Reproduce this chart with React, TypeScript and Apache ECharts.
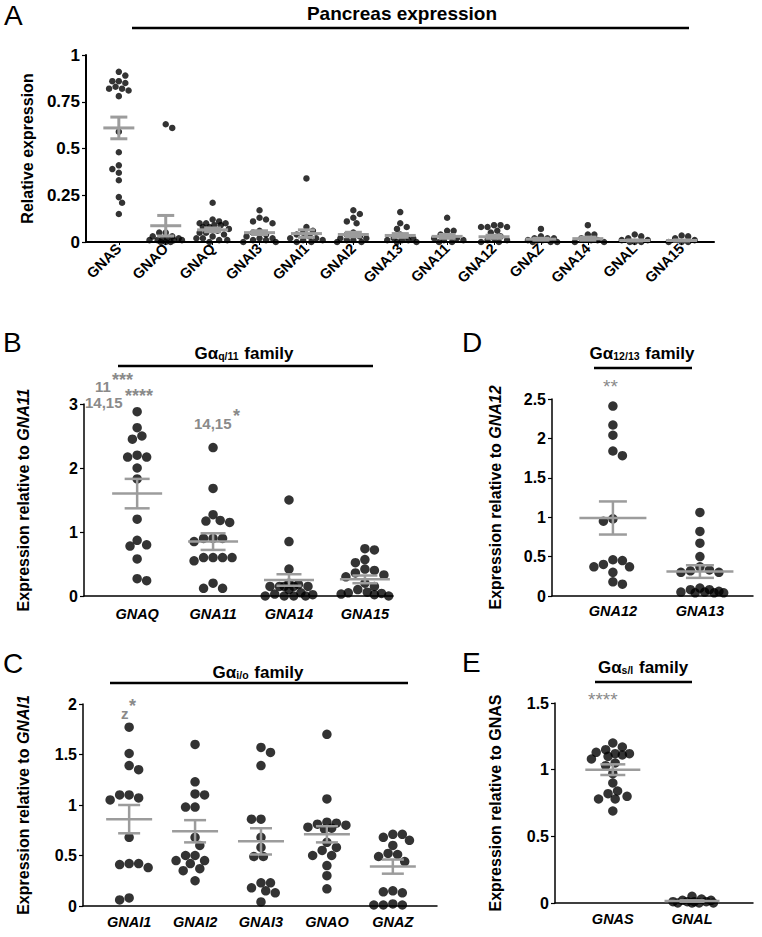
import React, { useEffect, useRef } from 'react';
import * as echarts from 'echarts';

const FONT = '"Liberation Sans", Arial, Helvetica, sans-serif';
const BAR_GRAY = '#9c9c9c';
const ANNO_GRAY = '#8a8a8a';

// ---------- Panel A: pancreas expression ----------
const pancreasCats = ['GNAS', 'GNAO', 'GNAQ', 'GNAI3', 'GNAI1', 'GNAI2', 'GNA13', 'GNA11', 'GNA12', 'GNAZ', 'GNA14', 'GNAL', 'GNA15'];
const pancreasValues = [
  [0.91, 0.89, 0.86, 0.86, 0.85, 0.83, 0.82, 0.82, 0.81, 0.78, 0.59, 0.48, 0.41, 0.39, 0.37, 0.33, 0.24, 0.21, 0.15],
  [0.63, 0.61, 0.05, 0.05, 0.03, 0.03, 0.02, 0.02, 0.02, 0.01, 0.01, 0.01, 0.01, 0.0, 0.0, 0.0],
  [0.21, 0.12, 0.11, 0.1, 0.1, 0.1, 0.09, 0.09, 0.08, 0.08, 0.07, 0.06, 0.05, 0.05, 0.04, 0.03, 0.02, 0.02, 0.01, 0.01, 0.0],
  [0.17, 0.13, 0.12, 0.11, 0.1, 0.06, 0.05, 0.04, 0.03, 0.02, 0.02, 0.01, 0.01, 0.0, 0.0],
  [0.34, 0.08, 0.06, 0.05, 0.04, 0.03, 0.02, 0.02, 0.01, 0.01, 0.0, 0.0],
  [0.17, 0.15, 0.13, 0.11, 0.1, 0.05, 0.04, 0.03, 0.02, 0.02, 0.01, 0.01, 0.0, 0.0],
  [0.16, 0.1, 0.08, 0.07, 0.04, 0.03, 0.02, 0.02, 0.01, 0.01, 0.01, 0.0, 0.0],
  [0.13, 0.06, 0.06, 0.04, 0.03, 0.02, 0.02, 0.01, 0.01, 0.0, 0.0],
  [0.09, 0.09, 0.08, 0.08, 0.08, 0.06, 0.05, 0.03, 0.02, 0.01, 0.01, 0.0, 0.0],
  [0.07, 0.03, 0.02, 0.02, 0.02, 0.01, 0.01, 0.01, 0.0, 0.0, 0.0],
  [0.09, 0.04, 0.04, 0.02, 0.01, 0.01, 0.0, 0.0],
  [0.04, 0.03, 0.02, 0.01, 0.01, 0.0, 0.0, 0.0],
  [0.035, 0.03, 0.02, 0.01, 0.0, 0.0, 0.0],
];
const pancreasMean = [0.61, 0.087, 0.065, 0.05, 0.045, 0.04, 0.035, 0.03, 0.028, 0.015, 0.018, 0.008, 0.008];
const pancreasSem = [0.058, 0.055, 0.01, 0.01, 0.02, 0.012, 0.01, 0.01, 0.008, 0.005, 0.008, 0.003, 0.003];

// ---------- Panel B: Gαq/11 family ----------
const q11Cats = ['GNAQ', 'GNA11', 'GNA14', 'GNA15'];
const q11Values = [
  [2.88, 2.63, 2.5, 2.45, 2.2, 2.17, 2.17, 2.0, 1.83, 1.2, 0.87, 0.8, 0.78, 0.58, 0.27, 0.24],
  [2.32, 1.68, 1.27, 1.18, 1.15, 1.17, 0.9, 0.9, 0.9, 0.85, 0.6, 0.6, 0.6, 0.6, 0.55, 0.2, 0.12, 0.12],
  [1.5, 0.85, 0.42, 0.2, 0.18, 0.15, 0.15, 0.15, 0.15, 0.15, 0.1, 0.05, 0.03, 0.02, 0.0, 0.0, 0.0, 0.0],
  [0.74, 0.72, 0.57, 0.52, 0.42, 0.4, 0.36, 0.33, 0.3, 0.2, 0.15, 0.1, 0.06, 0.05, 0.04, 0.03, 0.02, 0.0],
];
const q11Mean = [1.6, 0.85, 0.25, 0.26];
const q11Sem = [0.23, 0.13, 0.09, 0.06];

// ---------- Panel C: Gαi/o family ----------
const ioCats = ['GNAI1', 'GNAI2', 'GNAI3', 'GNAO', 'GNAZ'];
const ioValues = [
  [1.77, 1.51, 1.39, 1.35, 1.1, 1.1, 1.07, 1.05, 0.68, 0.42, 0.42, 0.41, 0.38, 0.08, 0.06],
  [1.6, 1.23, 1.11, 1.1, 0.98, 0.98, 0.68, 0.6, 0.5, 0.5, 0.45, 0.45, 0.42, 0.37, 0.35, 0.25],
  [1.57, 1.52, 1.39, 0.86, 0.86, 0.68, 0.58, 0.49, 0.49, 0.23, 0.23, 0.18, 0.15, 0.13, 0.04],
  [1.7, 1.06, 0.83, 0.82, 0.81, 0.8, 0.78, 0.77, 0.76, 0.63, 0.58, 0.55, 0.5, 0.5, 0.4, 0.3, 0.17],
  [0.71, 0.71, 0.68, 0.65, 0.6, 0.52, 0.51, 0.49, 0.44, 0.15, 0.14, 0.13, 0.02, 0.01, 0.01, 0.01],
];
const ioMean = [0.86, 0.74, 0.64, 0.71, 0.39];
const ioSem = [0.14, 0.11, 0.13, 0.08, 0.07];

// ---------- Panel D: Gα12/13 family ----------
const g1213Cats = ['GNA12', 'GNA13'];
const g1213Values = [
  [2.41, 2.17, 2.04, 1.84, 1.78, 0.98, 0.95, 0.46, 0.45, 0.4, 0.37, 0.37, 0.3, 0.18, 0.15],
  [1.06, 0.82, 0.67, 0.5, 0.37, 0.33, 0.32, 0.3, 0.3, 0.1, 0.08, 0.08, 0.06, 0.05, 0.05, 0.04, 0.04, 0.04],
];
const g1213Mean = [0.99, 0.31];
const g1213Sem = [0.21, 0.08];

// ---------- Panel E: Gαs/l family ----------
const slCats = ['GNAS', 'GNAL'];
const slValues = [
  [1.2, 1.17, 1.15, 1.13, 1.12, 1.12, 1.11, 1.1, 1.08, 1.05, 1.03, 0.97, 0.9, 0.84, 0.82, 0.8, 0.78, 0.78, 0.69],
  [0.05, 0.03, 0.02, 0.02, 0.01, 0.01, 0.01, 0.01, 0.0, 0.0, 0.0, 0.0],
];
const slMean = [1.0, 0.015];
const slSem = [0.04, 0.005];

type Panel = {
  cats: string[];
  values: number[][];
  mean: number[];
  sem: number[];
  grid: { left: number; top: number; width: number; height: number };
  xMin: number;
  xMax: number;
  yMax: number;
  yInterval: number;
  dot: number;
  spread: number;
  meanW: number;
  capW: number;
  barW: number;
  axisW: number;
  yName: string;
  yNameGap: number;
  yLabelSize: number;
  italicCats: boolean;
  rotate: number;
  catSize: number;
  catMargin: number;
  xTicks: boolean;
};

const panels: Panel[] = [
  {
    cats: pancreasCats, values: pancreasValues, mean: pancreasMean, sem: pancreasSem,
    grid: { left: 86, top: 55, width: 628, height: 187 },
    xMin: -0.7, xMax: 12.69, yMax: 1, yInterval: 0.25, dot: 6.5, spread: 17,
    meanW: 31, capW: 17, barW: 3, axisW: 2,
    yName: '{n|Relative expression}', yNameGap: 51, yLabelSize: 17,
    italicCats: false, rotate: 45, catSize: 14.5, catMargin: 4, xTicks: true,
  },
  {
    cats: q11Cats, values: q11Values, mean: q11Mean, sem: q11Sem,
    grid: { left: 84, top: 404, width: 309, height: 192 },
    xMin: -0.7, xMax: 3.37, yMax: 3, yInterval: 1, dot: 9.5, spread: 24,
    meanW: 50, capW: 25, barW: 2.5, axisW: 1.5,
    yName: '{n|Expression relative to }{i|GNA11}', yNameGap: 53, yLabelSize: 16,
    italicCats: true, rotate: 0, catSize: 14.5, catMargin: 10, xTicks: false,
  },
  {
    cats: ioCats, values: ioValues, mean: ioMean, sem: ioSem,
    grid: { left: 83, top: 704, width: 354, height: 202 },
    xMin: -0.7, xMax: 4.67, yMax: 2, yInterval: 0.5, dot: 9.5, spread: 22,
    meanW: 46, capW: 22, barW: 2.5, axisW: 1.5,
    yName: '{n|Expression relative to }{i|GNAI1}', yNameGap: 52, yLabelSize: 16,
    italicCats: true, rotate: 0, catSize: 14.5, catMargin: 8, xTicks: false,
  },
  {
    cats: g1213Cats, values: g1213Values, mean: g1213Mean, sem: g1213Sem,
    grid: { left: 552, top: 399, width: 201, height: 197 },
    xMin: -0.7, xMax: 1.61, yMax: 2.5, yInterval: 0.5, dot: 9.5, spread: 26,
    meanW: 67, capW: 28, barW: 2.5, axisW: 1.5,
    yName: '{n|Expression relative to }{i|GNA12}', yNameGap: 49, yLabelSize: 16,
    italicCats: true, rotate: 0, catSize: 14.5, catMargin: 7, xTicks: false,
  },
  {
    cats: slCats, values: slValues, mean: slMean, sem: slSem,
    grid: { left: 555, top: 703, width: 198, height: 200 },
    xMin: -0.73, xMax: 1.77, yMax: 1.5, yInterval: 0.5, dot: 9.5, spread: 22,
    meanW: 55, capW: 25, barW: 2.5, axisW: 1.5,
    yName: '{n|Expression relative to GNAS}', yNameGap: 52, yLabelSize: 16,
    italicCats: true, rotate: 0, catSize: 14.5, catMargin: 8, xTicks: false,
  },
];

// Beeswarm layout with a maximum half-width (pixels); returns x offsets in axis units
function swarm(vals: number[], yPx: number, xPx: number, d: number, maxHalf: number): number[] {
  const order = vals.map((_, i) => i).sort((a, b) => vals[b] - vals[a]);
  const placed: { x: number; y: number }[] = [];
  const res: number[] = new Array(vals.length).fill(0);
  let bal = 0;
  const minD2 = d * d * 0.92;
  const step = d * 0.25;
  const kMax = Math.floor(maxHalf / step);
  for (const i of order) {
    const y = vals[i] * yPx;
    const minDist = (x: number) =>
      placed.reduce((m, p) => Math.min(m, (p.x - x) ** 2 + (p.y - y) ** 2), Infinity);
    let chosen: number | undefined;
    let best = 0;
    let bestD = -1;
    for (let k = 0; k <= kMax; k++) {
      const s = k * step;
      const opts = k === 0 ? [0] : bal > 0 ? [-s, s] : [s, -s];
      for (const o of opts) {
        const md = minDist(o);
        if (md >= minD2) {
          chosen = o;
          break;
        }
        if (md > bestD + 0.5) {
          bestD = md;
          best = o;
        }
      }
      if (chosen !== undefined) break;
    }
    const x = chosen !== undefined ? chosen : best;
    bal += Math.sign(x);
    placed.push({ x, y });
    res[i] = x / xPx;
  }
  return res;
}

function buildOption(): any {
  const grids: any[] = [];
  const xAxes: any[] = [];
  const yAxes: any[] = [];
  const series: any[] = [];

  panels.forEach((p, pi) => {
    grids.push({ ...p.grid, containLabel: false });
    const idx = p.cats.map((_, i) => i);
    xAxes.push({
      type: 'value',
      gridIndex: pi,
      min: p.xMin,
      max: p.xMax,
      splitLine: { show: false },
      axisLine: { show: true, onZero: false, lineStyle: { color: '#000', width: p.axisW } },
      axisTick: { show: p.xTicks, customValues: idx, length: 3, lineStyle: { color: '#000', width: 1 } },
      axisLabel: {
        customValues: idx,
        formatter: (v: number) => p.cats[Math.round(v)] ?? '',
        rotate: p.rotate,
        margin: p.catMargin,
        color: '#000',
        fontFamily: FONT,
        fontWeight: 'bold',
        fontStyle: p.italicCats ? 'italic' : 'normal',
        fontSize: p.catSize,
      },
    });
    yAxes.push({
      type: 'value',
      gridIndex: pi,
      min: 0,
      max: p.yMax,
      interval: p.yInterval,
      splitLine: { show: false },
      axisLine: { show: true, onZero: false, lineStyle: { color: '#000', width: p.axisW } },
      axisTick: { show: true, length: 4, lineStyle: { color: '#000', width: 1.2 } },
      axisLabel: {
        color: '#000',
        fontFamily: FONT,
        fontWeight: 'bold',
        fontSize: p.yLabelSize,
        margin: 6,
      },
      name: p.yName,
      nameLocation: 'middle',
      nameRotate: 90,
      nameGap: p.yNameGap,
      nameTextStyle: {
        rich: {
          n: { fontFamily: FONT, fontWeight: 'bold', fontSize: 16, color: '#000' },
          i: { fontFamily: FONT, fontWeight: 'bold', fontStyle: 'italic', fontSize: 16, color: '#000' },
        },
      },
    });

    const yPx = p.grid.height / p.yMax;
    const xPx = p.grid.width / (p.xMax - p.xMin);
    const pts: number[][] = [];
    p.values.forEach((vals, ci) => {
      const offs = swarm(vals, yPx, xPx, p.dot, p.spread);
      vals.forEach((v, k) => pts.push([ci + offs[k], v]));
    });
    series.push({
      type: 'scatter',
      xAxisIndex: pi,
      yAxisIndex: pi,
      data: pts,
      symbol: 'circle',
      symbolSize: p.dot,
      itemStyle: { color: '#000' },
      clip: false,
      silent: true,
      z: 2,
    });

    const bars = p.mean.map((m, i) => [i, m, Math.max(0, m - p.sem[i]), m + p.sem[i]]);
    series.push({
      type: 'custom',
      xAxisIndex: pi,
      yAxisIndex: pi,
      data: bars,
      silent: true,
      z: 3,
      clip: false,
      renderItem: (_params: any, api: any) => {
        const i = api.value(0);
        const pm = api.coord([i, api.value(1)]);
        const pl = api.coord([i, api.value(2)]);
        const ph = api.coord([i, api.value(3)]);
        const st = { stroke: BAR_GRAY, lineWidth: p.barW };
        return {
          type: 'group',
          children: [
            { type: 'line', shape: { x1: pm[0] - p.meanW / 2, y1: pm[1], x2: pm[0] + p.meanW / 2, y2: pm[1] }, style: st },
            { type: 'line', shape: { x1: pl[0], y1: pl[1], x2: ph[0], y2: ph[1] }, style: st },
            { type: 'line', shape: { x1: pl[0] - p.capW / 2, y1: pl[1], x2: pl[0] + p.capW / 2, y2: pl[1] }, style: st },
            { type: 'line', shape: { x1: ph[0] - p.capW / 2, y1: ph[1], x2: ph[0] + p.capW / 2, y2: ph[1] }, style: st },
          ],
        };
      },
    });
  });

  const letter = (t: string, x: number, y: number) => ({
    type: 'text',
    x,
    y,
    style: { text: t, fontFamily: FONT, fontSize: 28, fill: '#000', verticalAlign: 'middle', align: 'left' },
  });
  const hline = (x1: number, x2: number, y: number) => ({
    type: 'line',
    shape: { x1, y1: y, x2, y2: y },
    style: { stroke: '#000', lineWidth: 2.6 },
  });
  const familyTitle = (sub: string, x: number, y: number) => ({
    type: 'text',
    x,
    y,
    style: {
      text: `{b|Gα}{s|${sub}}{b| family}`,
      align: 'center',
      verticalAlign: 'middle',
      rich: {
        b: { fontFamily: FONT, fontWeight: 'bold', fontSize: 17, fill: '#000', verticalAlign: 'bottom' },
        s: { fontFamily: FONT, fontWeight: 'bold', fontSize: 10.5, fill: '#000', verticalAlign: 'bottom', padding: [0, 1, 0, 0] },
      },
    },
  });
  const anno = (t: string, x: number, y: number, size = 14, weight = 'bold', align = 'left') => ({
    type: 'text',
    x,
    y,
    style: { text: t, fontFamily: FONT, fontSize: size, fontWeight: weight, fill: ANNO_GRAY, verticalAlign: 'middle', align },
  });

  const graphic = [
    letter('A', 4, 15),
    letter('B', 3, 342),
    letter('C', 3, 663),
    letter('D', 462, 342),
    letter('E', 462, 662),
    {
      type: 'text',
      x: 402,
      y: 13,
      style: { text: 'Pancreas expression', fontFamily: FONT, fontWeight: 'bold', fontSize: 19, fill: '#000', align: 'center', verticalAlign: 'middle' },
    },
    hline(132, 689, 28),
    familyTitle('q/11', 244, 353),
    hline(118, 373, 366),
    familyTitle('i/o', 258, 672),
    hline(110, 408, 683),
    familyTitle('12/13', 642, 353),
    hline(594, 692, 368),
    familyTitle('s/l', 643, 667),
    hline(595, 692, 682),
    anno('11', 95, 386, 15),
    anno('***', 112, 380, 18),
    anno('14,15', 85, 402, 15),
    anno('****', 125, 396, 18),
    anno('14,15', 194, 423, 15),
    anno('*', 233, 416, 18),
    anno('**', 603, 386, 19, 'normal'),
    anno('z', 121, 713, 15),
    anno('*', 129, 706, 18),
    anno('****', 588, 699, 19, 'normal'),
  ];

  return {
    animation: false,
    backgroundColor: '#fff',
    grid: grids,
    xAxis: xAxes,
    yAxis: yAxes,
    series,
    graphic,
  };
}

export default function App() {
  const ref = useRef<HTMLDivElement>(null);
  useEffect(() => {
    if (!ref.current) return;
    const chart = echarts.init(ref.current, undefined, { renderer: 'svg' });
    chart.setOption(buildOption());
    return () => chart.dispose();
  }, []);
  return (
    <div
      ref={ref}
      style={{ position: 'absolute', left: 0, top: 0, width: 762, height: 937, background: '#fff' }}
    />
  );
}
